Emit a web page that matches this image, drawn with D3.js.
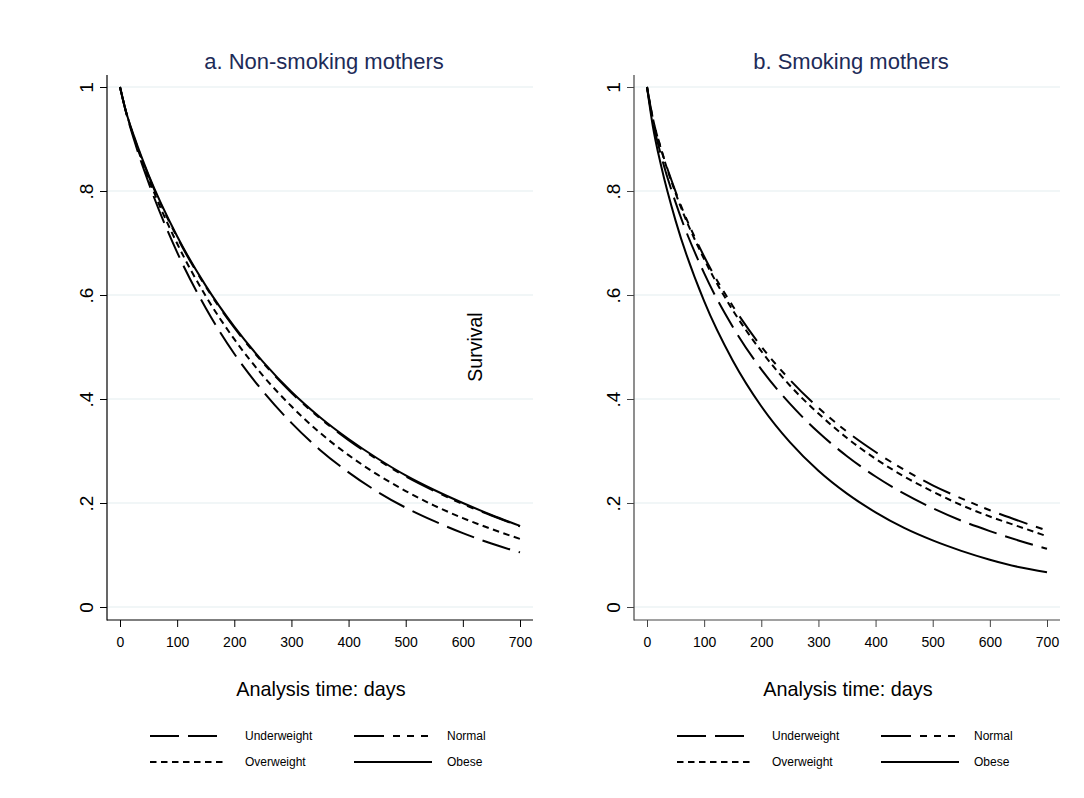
<!DOCTYPE html>
<html>
<head>
<meta charset="utf-8">
<script src="https://cdn.jsdelivr.net/npm/d3@7"></script>
<style>
  html, body { margin: 0; padding: 0; background: #fff; }
  svg { display: block; font-family: "Liberation Sans", Arial, Helvetica, sans-serif; }
</style>
</head>
<body>
<svg id="chart" width="1084" height="798"></svg>
<script>
// ---------- data ----------
const times = [0, 10, 25, 50, 100, 150, 200, 250, 300, 350, 400, 450, 500, 550, 600, 650, 700];

// a. Non-smoking mothers
const underweightA = [1, .954, .897, .816, .682, .575, .487, .415, .354, .302, .259, .222, .191, .165, .142, .122, .105];
const normalA      = [1, .954, .902, .829, .711, .616, .537, .470, .412, .363, .321, .284, .251, .223, .198, .176, .155];
const overweightA  = [1, .955, .901, .824, .699, .598, .515, .445, .386, .335, .292, .255, .223, .195, .171, .150, .131];
const obeseA       = [1, .955, .904, .831, .713, .618, .539, .472, .414, .365, .323, .286, .253, .225, .200, .177, .156];

// b. Smoking mothers
const underweightB = [1, .935, .867, .778, .642, .539, .457, .391, .336, .290, .251, .218, .190, .166, .146, .128, .112];
const normalB      = [1, .941, .880, .799, .674, .579, .501, .437, .383, .337, .298, .264, .234, .209, .186, .166, .147];
const overweightB  = [1, .941, .879, .796, .669, .571, .492, .426, .372, .325, .285, .251, .222, .196, .174, .155, .136];
const obeseB       = [1, .926, .847, .743, .588, .474, .386, .317, .262, .218, .182, .152, .128, .108, .091, .077, .067];

const xTicks = [0, 100, 200, 300, 400, 500, 600, 700];
const yTicks = [0, .2, .4, .6, .8, 1];
const yTickLabels = ["0", ".2", ".4", ".6", ".8", "1"];
const seriesNames = ["Underweight", "Normal", "Overweight", "Obese"];
const panelTitles = ["a. Non-smoking mothers", "b. Smoking mothers"];
const xTitle = "Analysis time: days";
const yTitle = "Survival";

// ---------- styles ----------
const dashes = {
  "Underweight": "29,9",
  "Normal": "30,9,7,7,7,7,7,9",
  "Overweight": "6.5,4.5",
  "Obese": null
};
const titleColor = "#1d2b58";
const gridColor = "#e3edf0";

const svg = d3.select("#chart");

const panels = [
  { axisX: 107, title: panelTitles[0], data: [underweightA, normalA, overweightA, obeseA], axisColor: "#000" },
  { axisX: 634, title: panelTitles[1], data: [underweightB, normalB, overweightB, obeseB], axisColor: "#444" }
];

const plotTop = 75, plotBottom = 620;

panels.forEach((p, pi) => {
  const left = p.axisX, right = p.axisX + 426;
  const x = d3.scaleLinear().domain([0, 700]).range([left + 13, left + 413]);
  const y = d3.scaleLinear().domain([0, 1]).range([607, 87]);
  const g = svg.append("g");

  // gridlines
  g.append("g").selectAll("line").data(yTicks).join("line")
    .attr("x1", left).attr("x2", right)
    .attr("y1", d => y(d)).attr("y2", d => y(d))
    .attr("stroke", gridColor).attr("stroke-width", 1.2);

  // y axis
  const yAxis = d3.axisLeft(y).tickValues(yTicks).tickSize(7)
    .tickFormat((d, i) => yTickLabels[i]);
  const ya = g.append("g").attr("transform", `translate(${left},0)`).call(yAxis);
  ya.select(".domain").remove();
  ya.selectAll(".tick line").attr("stroke", p.axisColor).attr("stroke-width", 1);
  ya.selectAll(".tick text")
    .attr("x", null).attr("dy", null)
    .attr("transform", "translate(-21,0) rotate(-90)")
    .attr("text-anchor", "middle")
    .attr("dominant-baseline", "central")
    .attr("fill", "#000")
    .style("font-size", "19px");

  // x axis
  const xAxis = d3.axisBottom(x).tickValues(xTicks).tickSize(7).tickPadding(10);
  const xa = g.append("g").attr("transform", `translate(0,${plotBottom})`).call(xAxis);
  xa.select(".domain").remove();
  xa.selectAll(".tick line").attr("stroke", p.axisColor).attr("stroke-width", 1);
  xa.selectAll(".tick text").attr("fill", "#000").style("font-size", "14px");

  // axis lines
  g.append("line").attr("x1", left).attr("x2", left).attr("y1", plotTop).attr("y2", plotBottom + 0.5)
    .attr("stroke", p.axisColor).attr("stroke-width", 1.2);
  g.append("line").attr("x1", left).attr("x2", right).attr("y1", plotBottom).attr("y2", plotBottom)
    .attr("stroke", p.axisColor).attr("stroke-width", 1.2);

  // title
  g.append("text").attr("x", (left + right) / 2 + 4).attr("y", 61)
    .attr("text-anchor", "middle").attr("dominant-baseline", "central")
    .attr("fill", titleColor).style("font-size", "22px").text(p.title);

  // x title
  g.append("text").attr("x", (left + right) / 2 + 1).attr("y", 689)
    .attr("text-anchor", "middle").attr("dominant-baseline", "central")
    .attr("fill", "#000").style("font-size", "19.8px").text(xTitle);

  // curves
  const line = d3.line().x((d, i) => x(times[i])).y(d => y(d)).curve(d3.curveMonotoneX);
  p.data.forEach((vals, si) => {
    const name = seriesNames[si];
    g.append("path").datum(vals)
      .attr("d", line)
      .attr("fill", "none").attr("stroke", "#000").attr("stroke-width", 2)
      .attr("stroke-dasharray", dashes[name]);
  });

  // legend
  const lg = g.append("g");
  const cols = [
    { lx1: left + 43, lx2: left + 118, tx: left + 138 },
    { lx1: left + 247, lx2: left + 325, tx: left + 340 }
  ];
  const rows = [736, 762];
  const legendOrder = [[0, 0], [1, 0], [0, 1], [1, 1]]; // [col,row]
  seriesNames.forEach((name, si) => {
    const [c, r] = legendOrder[si];
    const col = cols[c], yy = rows[r];
    lg.append("line").attr("x1", col.lx1).attr("x2", col.lx2).attr("y1", yy).attr("y2", yy)
      .attr("stroke", "#000").attr("stroke-width", 2)
      .attr("stroke-dasharray", dashes[name]);
    lg.append("text").attr("x", col.tx).attr("y", yy)
      .attr("dominant-baseline", "central")
      .attr("fill", "#000").style("font-size", "12px").text(name);
  });
});

// y-axis title (placed between the panels, as in the original)
svg.append("text")
  .attr("transform", `translate(475,347) rotate(-90)`)
  .attr("text-anchor", "middle").attr("dominant-baseline", "central")
  .attr("fill", "#000").style("font-size", "19.5px").text(yTitle);
</script>
</body>
</html>
